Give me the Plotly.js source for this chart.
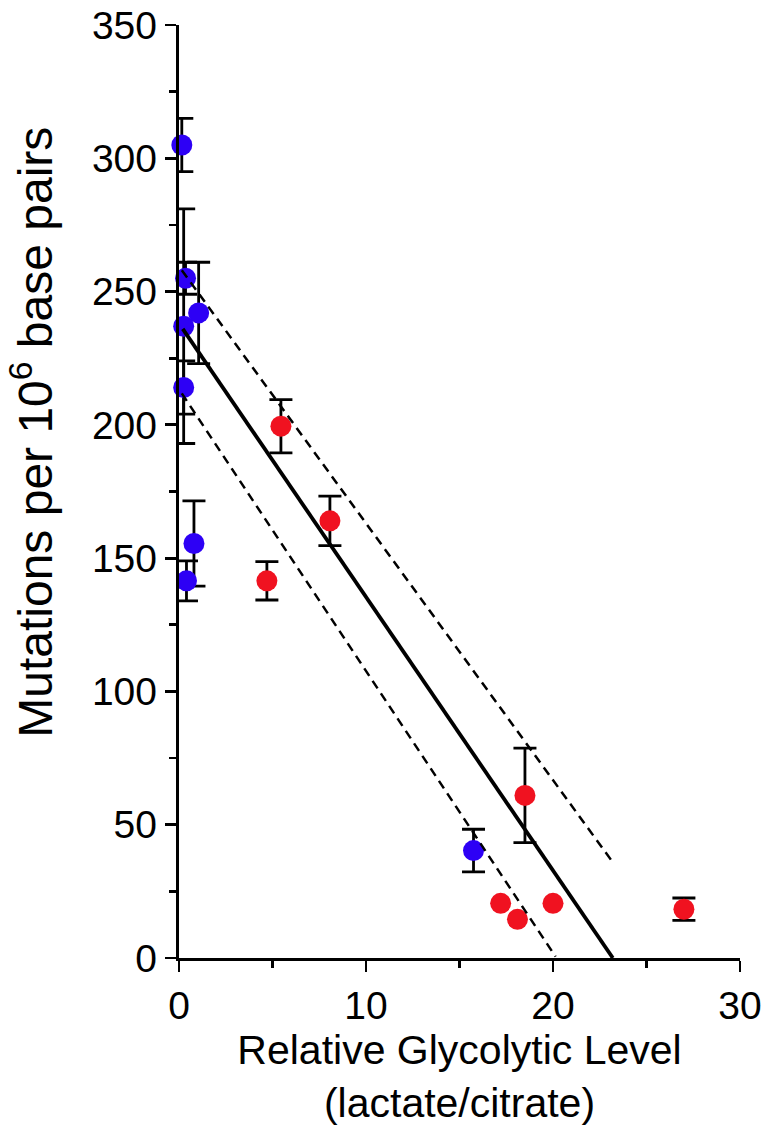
<!DOCTYPE html>
<html>
<head>
<meta charset="utf-8">
<script src="https://cdn.plot.ly/plotly-3.0.1.min.js"></script>
<style>
  html, body { margin: 0; padding: 0; background: #fff; }
  #chart { width: 769px; height: 1136px; }
</style>
</head>
<body>
<div id="chart"></div>
<script>
// blue group: glycolytic level, mutations, SE
const blueX = [0.15, 0.35, 1.05, 0.25, 0.25, 0.8, 0.4, 15.75];
const blueY = [305, 255, 242, 237, 214, 155.5, 141.5, 40.3];
const blueErr = [10, 6, 19, 44, 10, 16, 7.5, 8];

// red group (NaN = no error bar drawn)
const redX = [5.45, 8.07, 4.7, 18.5, 17.2, 18.1, 20.0, 27.0];
const redY = [199.5, 164, 141.5, 61, 20.5, 14.5, 20.5, 18.3];
const redErr = [10, 9.3, 7.2, 17.7, NaN, NaN, NaN, 4.2];

// regression line and 95% band (endpoints)
const fitX = [0.2, 23.2];
const fitY = [236, 0];
const upperX = [0.15, 23.26];
const upperY = [258, 35.3];
const lowerX = [0.15, 20.14];
const lowerY = [211.8, 0.5];

const font = 'Liberation Sans, Arial, sans-serif';

const errStyle = { type: 'data', color: '#000', thickness: 2.8, width: 11.5 };

const data = [
  {
    x: blueX, y: blueY, type: 'scatter', mode: 'markers', cliponaxis: false,
    marker: { color: 'rgb(45,0,245)', size: 21 },
    error_y: Object.assign({ array: blueErr }, errStyle)
  },
  {
    x: redX, y: redY, type: 'scatter', mode: 'markers', cliponaxis: false,
    marker: { color: 'rgb(240,18,32)', size: 21 },
    error_y: Object.assign({ array: redErr }, errStyle)
  },
  {
    x: fitX, y: fitY, type: 'scatter', mode: 'lines', cliponaxis: false,
    line: { color: '#000', width: 3.8 }
  },
  {
    x: upperX, y: upperY, type: 'scatter', mode: 'lines', cliponaxis: false,
    line: { color: '#000', width: 2.5, dash: '9px,6px' }
  },
  {
    x: lowerX, y: lowerY, type: 'scatter', mode: 'lines', cliponaxis: false,
    line: { color: '#000', width: 2.5, dash: '9px,6px' }
  }
];

const layout = {
  width: 769,
  height: 1136,
  showlegend: false,
  paper_bgcolor: '#fff',
  plot_bgcolor: '#fff',
  margin: { l: 179, r: 29, t: 25, b: 178 },
  font: { family: font, color: '#000' },
  xaxis: {
    range: [0, 30],
    tickvals: [0, 10, 20, 30],
    ticks: 'outside', ticklen: 11, tickwidth: 2.8, tickcolor: '#000',
    minor: { tickvals: [5, 15, 25], ticks: 'outside', ticklen: 7, tickwidth: 2.8, tickcolor: '#000' },
    showline: true, linewidth: 3.2, linecolor: '#000',
    showgrid: false, zeroline: false,
    tickfont: { family: font, size: 39, color: '#000' },
    automargin: false,
    title: {
      text: 'Relative Glycolytic Level<br>(lactate/citrate)',
      font: { family: font, size: 41, color: '#000' },
      standoff: 9
    }
  },
  yaxis: {
    range: [0, 350],
    tickvals: [0, 50, 100, 150, 200, 250, 300, 350],
    ticks: 'outside', ticklen: 11, tickwidth: 2.8, tickcolor: '#000',
    minor: { dtick: 25, ticks: 'outside', ticklen: 7, tickwidth: 2.8, tickcolor: '#000' },
    showline: true, linewidth: 3.2, linecolor: '#000',
    showgrid: false, zeroline: false,
    tickfont: { family: font, size: 39, color: '#000' },
    automargin: false
  },
  annotations: [
    {
      // y-axis title, placed as in the original (a little above the axis middle)
      text: 'Mutations per 10<sup>6</sup> base pairs',
      textangle: -90,
      xref: 'paper', yref: 'paper',
      x: -0.262, y: 0.563,
      xanchor: 'center', yanchor: 'middle',
      showarrow: false,
      font: { family: font, size: 48, color: '#000' }
    }
  ]
};

Plotly.newPlot('chart', data, layout, { staticPlot: true });
</script>
</body>
</html>
